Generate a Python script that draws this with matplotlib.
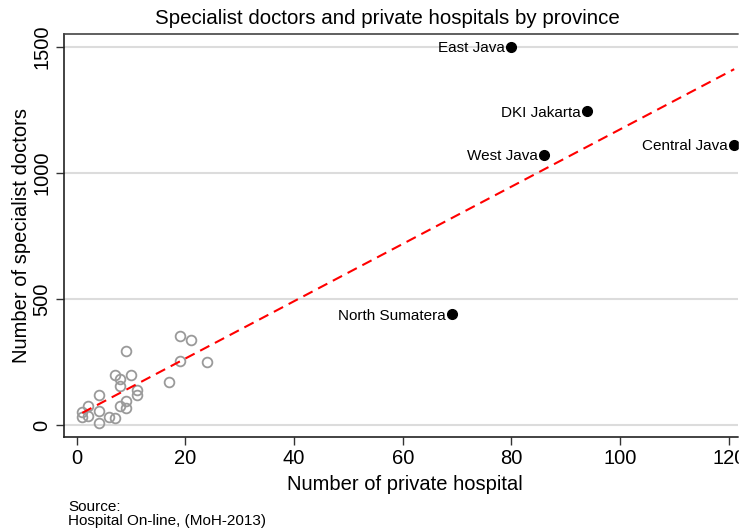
import numpy as np
import matplotlib
matplotlib.use("Agg")
import matplotlib.pyplot as plt
from matplotlib.patches import Rectangle

plt.rcParams["font.family"] = ["Liberation Sans", "DejaVu Sans"]

# ============================================================
# Data: provinces (private hospitals, specialist doctors)
# ============================================================
other_hospitals = [19, 21, 9, 19, 24, 7, 8, 10, 17, 8, 11, 11, 4, 9, 8, 9,
                   2, 4, 1, 1, 2, 6, 7, 4]
other_doctors = [353, 336, 295, 255, 249, 198, 184, 197, 171, 153, 138, 118,
                 120, 96, 75, 67, 77, 54, 52, 33, 36, 32, 27, 7]

big_names = ["East Java", "DKI Jakarta", "West Java", "Central Java", "North Sumatera"]
big_hospitals = [80, 94, 86, 121, 69]
big_doctors = [1500, 1245, 1072, 1111, 439]

x_ticks = [0, 20, 40, 60, 80, 100, 120]
y_ticks = [0, 500, 1000, 1500]

# ============================================================
# Linear fit over all provinces
# ============================================================
all_x = np.array(other_hospitals + big_hospitals, dtype=float)
all_y = np.array(other_doctors + big_doctors, dtype=float)
slope, intercept = np.polyfit(all_x, all_y, 1)
fit_x = np.array([all_x.min(), all_x.max()])
fit_y = intercept + slope * fit_x

# ============================================================
# Plot
# ============================================================
W, H = 753, 531
fig = plt.figure(figsize=(W / 100, H / 100), dpi=100)
ax = fig.add_axes([64 / W, 1 - 437 / H, (738 - 64) / W, (437 - 34) / H])

ax.set_xlim(-2.35, 121.7)
ax.set_ylim(-47.6, 1551.6)

for yv in y_ticks:
    ax.axhline(yv, color="#dcdcdc", lw=1.5, zorder=0)

ax.plot(other_hospitals, other_doctors, "o", ms=7, mfc="none",
        mec="#9a9a9a", mew=1.3, zorder=2)
ax.plot(big_hospitals, big_doctors, "o", ms=7, color="black", zorder=3)
for name, hx, dy in zip(big_names, big_hospitals, big_doctors):
    ax.annotate(name, (hx, dy), xytext=(-4.5, -1), textcoords="offset points",
                ha="right", va="center", fontsize=11)

ax.plot(fit_x, fit_y, "--", color="#ff0000", lw=1.5, dashes=(5, 3), zorder=4)

ax.set_xticks(x_ticks)
ax.set_yticks(y_ticks)
ax.tick_params(axis="both", direction="out", length=6, width=1,
               color="#333333", labelsize=14.5, pad=3)
plt.setp(ax.get_yticklabels(), rotation=90, va="center")
ax.spines["right"].set_visible(False)
for s in ["left", "bottom", "top"]:
    ax.spines[s].set_linewidth(1.2)
    ax.spines[s].set_color("#222222")
ax.spines["top"].set_color("#444444")

ax.set_xlabel("Number of private hospital", fontsize=14.5, labelpad=3)
ax.xaxis.set_label_coords((405 - 64) / (738 - 64), -0.095)
ax.set_ylabel("Number of specialist doctors", fontsize=14.5, labelpad=1)

fig.text(387 / W, 1 - 19 / H,
         "Specialist doctors and private hospitals by province",
         fontsize=14.8, ha="center", va="center")

fig.text(68 / W, 1 - 507 / H, "Source:", fontsize=11, va="center")
fig.text(68 / W, 1 - 521 / H, "Hospital On-line, (MoH-2013)",
         fontsize=11, va="center")

# right margin is blank
fig.patches.append(Rectangle((739 / W, 0), 1, 1, transform=fig.transFigure,
                             color="white", zorder=10))

fig.savefig("out.png", dpi=100)
